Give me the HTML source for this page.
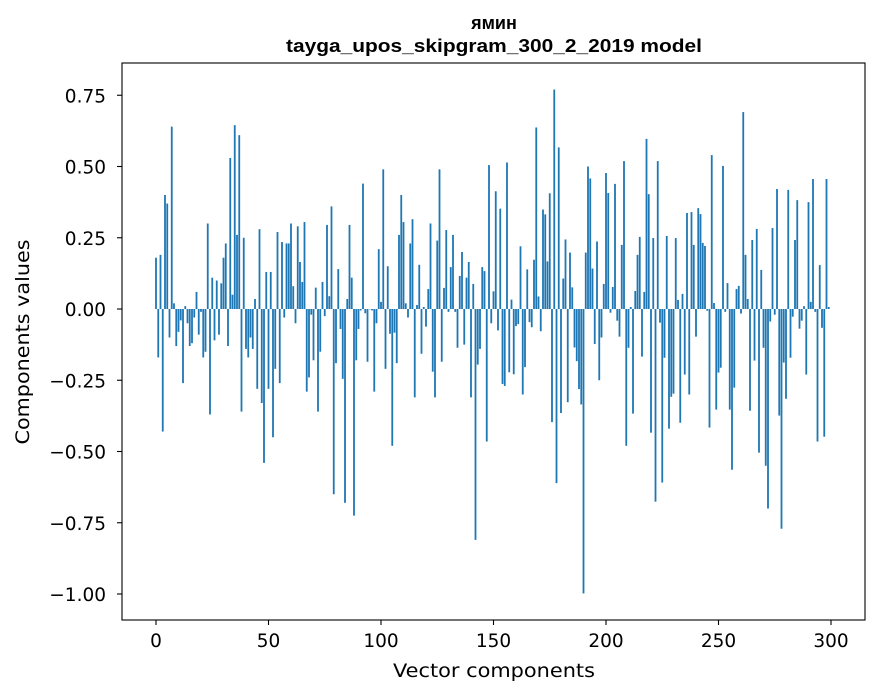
<!DOCTYPE html>
<html><head><meta charset="utf-8"><style>
body{margin:0;background:#fff;}
svg{display:block;font-family:"DejaVu Sans","Liberation Sans",sans-serif;}
</style></head><body>
<svg id="chart" width="880" height="696" viewBox="0 0 880 696" xmlns="http://www.w3.org/2000/svg">
<rect x="0" y="0" width="880" height="696" fill="#fff"/>
<text x="494" y="29" text-anchor="middle" font-size="18" font-weight="bold" font-family="Liberation Sans, sans-serif">ямин</text>
<text x="494" y="52" text-anchor="middle" font-size="18" font-weight="bold" font-family="Liberation Sans, sans-serif" textLength="416" lengthAdjust="spacingAndGlyphs">tayga_upos_skipgram_300_2_2019 model</text>
<g id="bars"></g>
<g id="xticks"></g>
<g id="yticks"></g>
<rect x="122" y="63" width="743" height="557" fill="none" stroke="#000" stroke-width="1.1"/>
<text x="494" y="677" text-anchor="middle" font-size="19" textLength="202" lengthAdjust="spacingAndGlyphs">Vector components</text>
<text x="0" y="0" transform="translate(29,342) rotate(-90)" text-anchor="middle" font-size="19" textLength="205" lengthAdjust="spacingAndGlyphs">Components values</text>
</svg>
<script>
const values = [
0.18,-0.17,0.19,-0.43,0.40,0.37,-0.10,0.64,0.02,-0.13,
-0.08,-0.04,-0.26,0.01,-0.05,-0.13,-0.12,-0.03,0.06,-0.09,
-0.01,-0.17,-0.15,0.30,-0.37,0.11,-0.11,0.10,-0.09,0.09,
0.18,0.23,-0.13,0.53,0.05,0.645,0.26,0.61,-0.36,0.25,
-0.14,-0.17,-0.10,-0.14,0.035,-0.28,0.28,-0.33,-0.54,0.13,
-0.28,0.13,-0.45,-0.21,0.27,-0.26,0.235,-0.03,0.23,0.23,
0.30,0.08,-0.05,0.29,0.165,0.095,0.305,-0.29,-0.24,-0.02,
-0.18,0.075,-0.36,-0.15,0.095,-0.025,0.295,0.045,0.36,-0.65,
-0.19,0.14,-0.07,-0.245,-0.68,0.035,0.295,0.11,-0.725,-0.18,
-0.07,-0.005,0.44,-0.015,-0.185,0.0,-0.005,-0.29,-0.05,0.21,
0.025,0.49,-0.21,0.15,-0.087,-0.48,-0.083,-0.19,0.26,0.40,
0.305,0.02,-0.03,0.23,0.315,-0.31,0.014,0.155,-0.157,0.007,
-0.062,0.07,0.30,-0.22,-0.31,0.24,0.49,-0.185,0.074,0.277,
-0.01,0.147,0.26,-0.01,-0.136,0.116,0.20,-0.125,0.11,0.165,
-0.31,0.088,-0.81,-0.195,-0.14,0.147,0.133,-0.465,0.505,-0.05,
0.062,0.413,-0.075,0.352,-0.263,-0.27,0.514,-0.222,0.033,-0.229,
-0.06,-0.053,0.22,-0.30,-0.204,0.139,-0.046,-0.064,0.173,0.637,
0.044,-0.078,0.349,0.332,0.167,0.406,-0.397,0.77,-0.611,0.567,
-0.365,0.107,0.244,-0.327,0.198,0.076,-0.135,-0.183,-0.281,-0.335,
-0.998,0.198,0.50,0.458,0.142,-0.123,0.237,-0.25,-0.10,0.088,
0.477,0.407,-0.013,0.077,0.439,-0.041,-0.097,0.225,0.519,-0.48,
-0.136,0.007,-0.367,0.063,0.19,0.253,-0.167,0.06,0.597,0.403,
-0.434,0.249,-0.676,0.519,-0.048,-0.609,-0.171,0.256,-0.42,-0.308,
-0.297,0.249,0.032,-0.399,0.053,-0.23,0.337,-0.30,0.34,0.225,
-0.097,0.354,0.333,0.232,0.221,-0.006,-0.416,0.54,0.021,-0.353,
-0.223,-0.206,0.502,-0.01,0.091,-0.353,-0.564,-0.276,0.07,0.081,
-0.016,0.691,0.19,0.035,-0.357,0.242,-0.181,0.281,-0.504,0.137,
-0.136,-0.55,-0.70,-0.044,0.284,-0.02,0.421,-0.374,-0.771,-0.188,
-0.315,0.418,-0.171,-0.027,0.242,0.382,-0.069,-0.041,0.01,-0.23,
0.375,0.025,0.456,-0.01,-0.465,0.154,-0.066,-0.448,0.456,0.007
];
const xTickValues = [0,50,100,150,200,250,300];
const yTickValues = [-1.00,-0.75,-0.50,-0.25,0.00,0.25,0.50,0.75];
const yTickLabels = ["\u22121.00","\u22120.75","\u22120.50","\u22120.25","0.00","0.25","0.50","0.75"];

const NS = "http://www.w3.org/2000/svg";
const xs = v => 156 + 2.25 * v;
const ys = v => 309 - 285 * v;

const bars = document.getElementById('bars');
values.forEach((v, i) => {
  const r = document.createElementNS(NS, 'rect');
  const y0 = ys(Math.max(v, 0)), y1 = ys(Math.min(v, 0));
  r.setAttribute('x', xs(i - 0.4));
  r.setAttribute('y', y0);
  r.setAttribute('width', 2.25 * 0.8);
  r.setAttribute('height', Math.max(y1 - y0, 0.3));
  r.setAttribute('fill', '#1f77b4');
  
  
  bars.appendChild(r);
});

const xg = document.getElementById('xticks');
xTickValues.forEach(t => {
  const l = document.createElementNS(NS, 'line');
  l.setAttribute('x1', xs(t)); l.setAttribute('x2', xs(t));
  l.setAttribute('y1', 620); l.setAttribute('y2', 625);
  l.setAttribute('stroke', '#000'); l.setAttribute('stroke-width', '1.1');
  
  
  xg.appendChild(l);
  const tx = document.createElementNS(NS, 'text');
  tx.setAttribute('x', xs(t)); tx.setAttribute('y', 647);
  tx.setAttribute('text-anchor', 'middle'); tx.setAttribute('font-size', '18.5');
  tx.textContent = String(t);
  
  
  xg.appendChild(tx);
});

const yg = document.getElementById('yticks');
yTickValues.forEach((t, k) => {
  const l = document.createElementNS(NS, 'line');
  l.setAttribute('x1', 117); l.setAttribute('x2', 122);
  l.setAttribute('y1', ys(t)); l.setAttribute('y2', ys(t));
  l.setAttribute('stroke', '#000'); l.setAttribute('stroke-width', '1.1');
  
  
  yg.appendChild(l);
  const tx = document.createElementNS(NS, 'text');
  tx.setAttribute('x', 106); tx.setAttribute('y', ys(t) + 7);
  tx.setAttribute('text-anchor', 'end'); tx.setAttribute('font-size', '18.5');
  tx.textContent = yTickLabels[k];
  
  
  yg.appendChild(tx);
});
</script>
</body></html>
